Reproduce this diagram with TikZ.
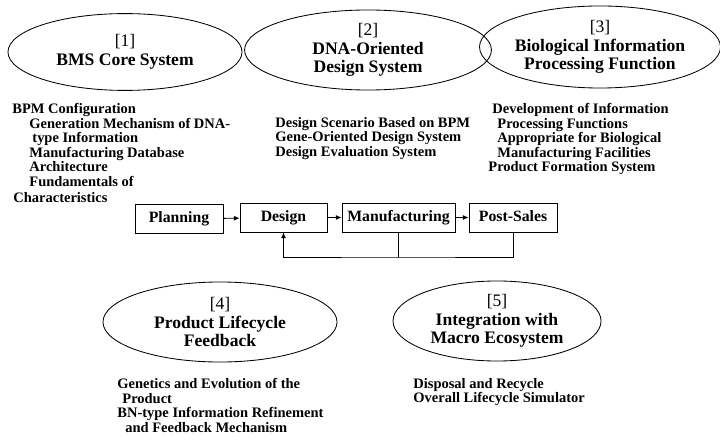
\documentclass[tikz,border=0pt]{standalone}
\usepackage{fontspec}
\setmainfont{Liberation Serif}
\usetikzlibrary{shapes.geometric,arrows.meta}
\newcommand{\ttl}{\fontsize{12.5}{13.2}\selectfont}
\newcommand{\lst}{\fontsize{10.3}{10.3}\selectfont\bfseries}
\begin{document}
\begin{tikzpicture}[x=0.025cm, y=-0.025cm, line width=0.6pt,
    area/.style={draw, ellipse, inner sep=0pt, align=center, font=\ttl},
    stage/.style={draw, rectangle, minimum height=0.725cm, inner sep=0pt, text height=7.8pt, text depth=2.6pt, font=\fontsize{11.2}{12}\selectfont\bfseries},
    items/.style={anchor=north west, inner sep=0pt, align=left, font=\lst},
    flow/.style={-{Latex[length=4pt,width=3.5pt]}}]
      \useasboundingbox (0,0) rectangle (720,445);
      % five areas
      \node [area, minimum width=5.85cm, minimum height=1.92cm] (a1) at (125,52) {[1]\\\textbf{BMS Core System}};
      \node [area, minimum width=6.17cm, minimum height=2cm] (a2) at (368,50) {[2]\\\textbf{DNA-Oriented}\\\textbf{Design System}};
      \node [area, minimum width=5.65cm, minimum height=2.05cm] (a3) at (600,47) {[3]\\\textbf{Biological Information}\\\textbf{Processing Function}};
      \node [area, minimum width=5.85cm, minimum height=2cm] (a4) at (220,322) {[4]\\\textbf{Product Lifecycle}\\\textbf{Feedback}};
      \node [area, minimum width=5.2cm, minimum height=2cm] (a5) at (497,321) {[5]\\\textbf{Integration with}\\\textbf{Macro Ecosystem}};
      % item lists
      \node [items] (l1) at (12,103) {BPM Configuration\\
        \hspace*{0.425cm}Generation Mechanism of DNA-\\
        \hspace*{0.5cm}type Information\\
        \hspace*{0.425cm}Manufacturing Database\\
        \hspace*{0.425cm}Architecture\\
        \hspace*{0.425cm}Fundamentals of\\[1.5pt]
        \hspace*{0.025cm}Characteristics};
      \node [items] (l2) at (275,117) {Design Scenario Based on BPM\\
        Gene-Oriented Design System\\
        Design Evaluation System};
      \node [items] (l3) at (488,103) {\hspace*{0.1cm}Development of Information\\
        \hspace*{0.225cm}Processing Functions\\
        \hspace*{0.225cm}Appropriate for Biological\\
        \hspace*{0.225cm}Manufacturing Facilities\\
        Product Formation System};
      \node [items] (l4) at (117,378) {Genetics and Evolution of the\\
        \hspace*{0.125cm}Product\\
        BN-type Information Refinement\\
        \hspace*{0.2cm}and Feedback Mechanism};
      \node [items] (l5) at (413,378) {Disposal and Recycle\\
        Overall Lifecycle Simulator};
      % lifecycle stages
      \node [stage, minimum width=2.2cm] (plan) at (179,219) {Planning};
      \node [stage, minimum width=2.175cm] (des) at (283.5,217.5) {Design};
      \node [stage, minimum width=2.825cm] (mfg) at (398.5,217.5) {Manufacturing};
      \node [stage, minimum width=2.2cm] (post) at (513,217.5) {Post-Sales};
      \draw [flow] (plan) -- (des);
      \draw [flow] (des) -- (mfg);
      \draw [flow] (mfg) -- (post);
      \coordinate (fb) at (398.5,257);
      \draw [flow] (post.south) |- (fb) -| (des.south);
      \draw (mfg.south) -- (fb);
    \end{tikzpicture}
\end{document}
